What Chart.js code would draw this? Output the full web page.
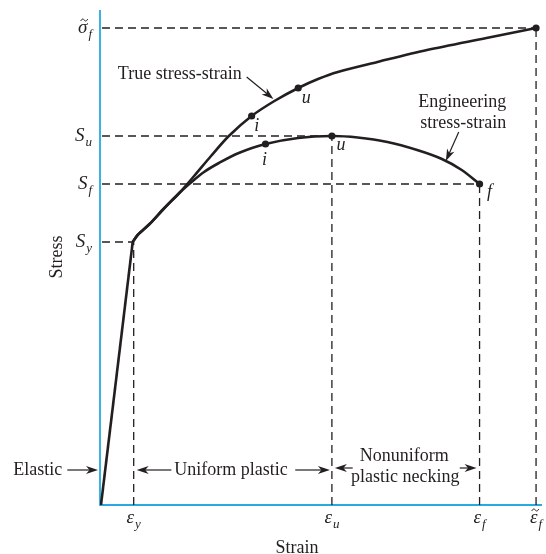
<!DOCTYPE html>
<html><head><meta charset="utf-8">
<script src="https://cdn.jsdelivr.net/npm/chart.js@4"></script>
<style>html,body{margin:0;padding:0;background:#fff}#wrap{width:546px;height:554px}</style>
</head><body><div id="wrap"><canvas id="c" width="546" height="554"></canvas></div>
<script>
// ---- data (plot units: strain 0..446, stress 0..495) ----
const strainTickValues = [34, 234, 383, 440];
const strainTickMain   = ['ε', 'ε', 'ε', 'ε\u0303'];
const strainTickSub    = ['y', 'u', 'f', 'f'];
const stressTickValues = [263, 369, 321, 477];
const stressTickMain   = ['S', 'S', 'S', 'σ\u0303'];
const stressTickSub    = ['y', 'u', 'f', 'f'];

const elasticX = [1, 33];
const elasticY = [0, 263];

const trueX = [33, 38, 50, 65, 80, 95, 112, 130, 153, 176, 200, 220, 240, 280, 330, 390, 440];
const trueY = [263, 270, 281, 297, 312, 329, 349, 369, 389, 404, 417, 426, 433, 443, 455, 467, 477];

const engX = [33, 38, 50, 65, 80, 90, 105, 120, 140, 167, 200, 234, 260, 290, 320, 345, 365, 383];
const engY = [263, 270, 281, 297, 312, 321, 333, 342, 352, 361, 367, 369, 367.5, 363, 355, 346, 335, 321];

const truePtX = [153, 200, 440];
const truePtY = [389, 417, 477];
const truePtLabel = ['i', 'u', ''];
const engPtX = [167, 234, 383];
const engPtY = [361, 369, 321];
const engPtLabel = ['i', 'u', 'f'];

// ---- build ----
const INK = '#231f20';
const CYAN = '#27aae1';
const SERIF = '"Liberation Serif", "DejaVu Serif", serif';
const zip = (xs, ys) => xs.map((x, i) => ({x, y: ys[i]}));

const datasets = [];
strainTickValues.forEach((sv, i) => {
  const st = stressTickValues[i];
  datasets.push({data: [{x: 2, y: st}, {x: sv, y: st}], order: 5});
  datasets.push({data: [{x: sv, y: 0}, {x: sv, y: st}], order: 5});
});
datasets.forEach(d => Object.assign(d, {showLine: true, borderColor: INK, borderWidth: 1.3, borderDash: [8, 5], pointRadius: 0, fill: false}));
const curve = {showLine: true, borderColor: INK, borderWidth: 2.6, pointRadius: 0, fill: false, tension: 0.3, order: 3};
datasets.push(Object.assign({data: zip(elasticX, elasticY)}, curve, {tension: 0}));
datasets.push(Object.assign({data: zip(trueX, trueY)}, curve));
datasets.push(Object.assign({data: zip(engX, engY)}, curve));
const pts = {showLine: false, pointRadius: 3.6, pointBackgroundColor: INK, pointBorderColor: INK, pointBorderWidth: 0, order: 1};
datasets.push(Object.assign({data: zip(truePtX, truePtY)}, pts));
datasets.push(Object.assign({data: zip(engPtX, engPtY)}, pts));

function arrow(ctx, x1, y1, x2, y2) {
  const a = Math.atan2(y2 - y1, x2 - x1), L = 12, W = 4;
  ctx.save();
  ctx.strokeStyle = INK; ctx.fillStyle = INK; ctx.lineWidth = 1.2;
  ctx.beginPath(); ctx.moveTo(x1, y1);
  ctx.lineTo(x2 - Math.cos(a) * 7, y2 - Math.sin(a) * 7); ctx.stroke();
  ctx.translate(x2, y2); ctx.rotate(a);
  ctx.beginPath(); ctx.moveTo(0, 0); ctx.lineTo(-L, -W); ctx.lineTo(-L + 3.5, 0); ctx.lineTo(-L, W); ctx.closePath(); ctx.fill();
  ctx.restore();
}
function tilde(ctx, cx, y) {
  ctx.save();
  ctx.strokeStyle = INK; ctx.lineWidth = 1;
  ctx.beginPath();
  ctx.moveTo(cx - 3.5, y + 1);
  ctx.bezierCurveTo(cx - 2, y - 2, cx - 0.5, y - 1, cx, y);
  ctx.bezierCurveTo(cx + 0.5, y + 1, cx + 2, y + 2, cx + 3.5, y - 1);
  ctx.stroke();
  ctx.restore();
}
function subText(ctx, main, sub, x, y, align) {
  const hasTilde = main.indexOf('\u0303') >= 0;
  main = main.replace('\u0303', '');
  ctx.save();
  ctx.fillStyle = INK; ctx.textBaseline = 'alphabetic'; ctx.textAlign = 'left';
  ctx.font = 'italic 19px ' + SERIF;
  const w1 = ctx.measureText(main).width;
  ctx.font = 'italic 13px ' + SERIF;
  const w2 = ctx.measureText(sub).width;
  const w = w1 + w2 + 1;
  let x0 = align === 'right' ? x - w : x - w / 2;
  ctx.font = 'italic 19px ' + SERIF;
  ctx.fillText(main, x0, y);
  ctx.font = 'italic 13px ' + SERIF;
  ctx.fillText(sub, x0 + w1 + 1, y + 5);
  ctx.restore();
  if (hasTilde) tilde(ctx, x0 + w1 / 2 + 1.5, y - 13);
}
function text(ctx, s, x, y, align, italic) {
  ctx.save();
  ctx.fillStyle = INK; ctx.textBaseline = 'middle'; ctx.textAlign = align || 'center';
  ctx.font = (italic ? 'italic ' : '') + '18px ' + SERIF;
  ctx.fillText(s, x, y);
  ctx.restore();
}

const deco = {
  id: 'deco',
  beforeDatasetsDraw(chart) {
    const {ctx, chartArea: ca} = chart;
    ctx.save();
    ctx.strokeStyle = CYAN; ctx.lineWidth = 1.8;
    ctx.beginPath(); ctx.moveTo(ca.left, ca.top); ctx.lineTo(ca.left, ca.bottom); ctx.lineTo(ca.right, ca.bottom); ctx.stroke();
    ctx.restore();
  },
  afterDatasetsDraw(chart) {
    const {ctx} = chart;
    const X = v => chart.scales.x.getPixelForValue(v);
    const Y = v => chart.scales.y.getPixelForValue(v);
    // tick labels
    strainTickValues.forEach((v, i) => subText(ctx, strainTickMain[i], strainTickSub[i], X(v), Y(0) + 18, 'center'));
    stressTickValues.forEach((v, i) => subText(ctx, stressTickMain[i], stressTickSub[i], X(0) - 8, Y(v) + 5, 'right'));
    // axis titles
    text(ctx, 'Strain', (X(0) + X(446)) / 2 - 24, Y(0) + 43);
    ctx.save(); ctx.translate(X(0) - 43, Y(248)); ctx.rotate(-Math.PI / 2); text(ctx, 'Stress', 0, 0); ctx.restore();
    // point labels
    const offT = [[5, 10], [8, 10], [0, 0]], offE = [[-1, 16], [9, 9], [10, 8]];
    truePtX.forEach((v, i) => truePtLabel[i] && text(ctx, truePtLabel[i], X(v) + offT[i][0], Y(truePtY[i]) + offT[i][1], 'center', true));
    engPtX.forEach((v, i) => engPtLabel[i] && text(ctx, engPtLabel[i], X(v) + offE[i][0], Y(engPtY[i]) + offE[i][1], 'center', true));
    // curve labels
    text(ctx, 'True stress-strain', X(18), Y(431), 'left');
    arrow(ctx, X(148), Y(428), X(175), Y(406));
    text(ctx, 'Engineering', X(410), Y(403), 'right');
    text(ctx, 'stress-strain', X(410), Y(382), 'right');
    arrow(ctx, X(362), Y(373), X(349), Y(344));
    // region labels
    const yr = Y(35);
    text(ctx, 'Elastic', X(-38), yr, 'right');
    arrow(ctx, X(-33), yr, X(-2), yr);
    arrow(ctx, X(72), yr, X(strainTickValues[0]) + 3, yr);
    text(ctx, 'Uniform plastic', X(75), yr, 'left');
    arrow(ctx, X(197), yr, X(strainTickValues[1]) - 2, yr);
    text(ctx, 'Nonuniform', X(307), Y(49));
    text(ctx, 'plastic necking', X(308), Y(28));
    arrow(ctx, X(255), Y(37), X(strainTickValues[1]) + 3, Y(37));
    arrow(ctx, X(363), Y(37), X(strainTickValues[2]) - 3, Y(37));
  }
};

new Chart(document.getElementById('c'), {
  type: 'scatter',
  data: {datasets},
  options: {
    responsive: false, animation: false,
    layout: {padding: {left: 100, right: 0, top: 10, bottom: 49}},
    scales: {
      x: {type: 'linear', min: 0, max: 446, display: false},
      y: {type: 'linear', min: 0, max: 495, display: false}
    },
    plugins: {legend: {display: false}, tooltip: {enabled: false}},
    elements: {line: {borderCapStyle: 'butt'}}
  },
  plugins: [deco]
});
</script></body></html>
